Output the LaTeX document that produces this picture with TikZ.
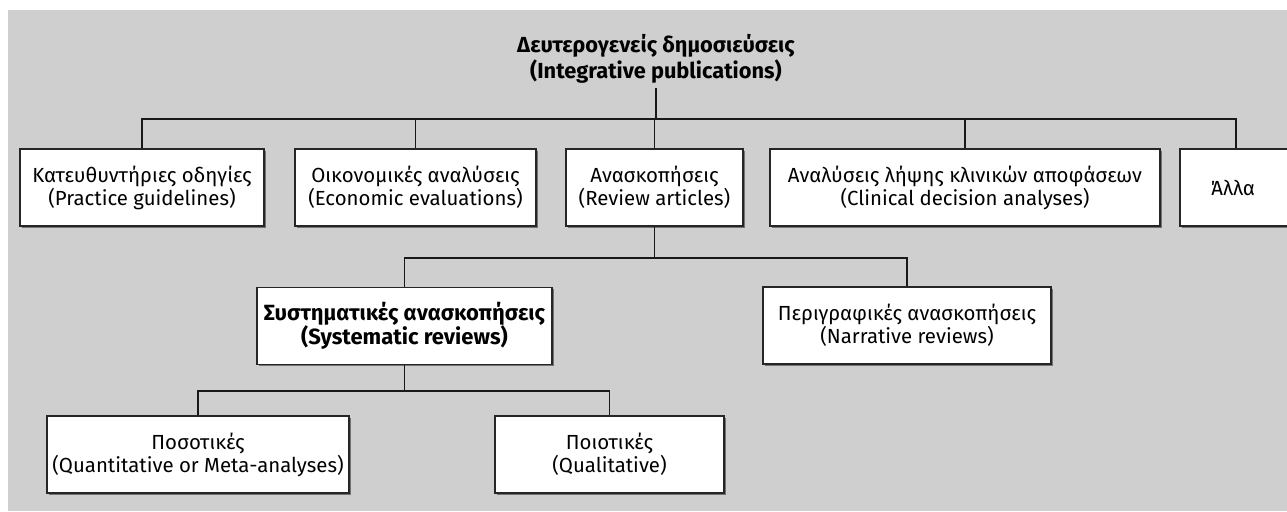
\documentclass[tikz,border=0pt]{standalone}
\usepackage{fontspec}
\setmainfont{Fira Sans}
\begin{document}
\begin{tikzpicture}[x=0.5pt,y=-0.5pt,
  box/.style={draw=black!85,line width=0.7pt,fill=white,inner sep=0pt,
    minimum height=38.5pt,align=center,font=\fontsize{10.2}{11.5}\selectfont},
  boldbox/.style={box,font=\fontsize{11}{12}\selectfont\bfseries},
  conn/.style={draw=black!90,line width=0.7pt}]
\useasboundingbox (0,0) rectangle (1287,511);
\fill[gray!38] (8,10) rectangle (1287,511);
\clip (0,0) rectangle (1287,511);
% title
\node[align=center,font=\fontsize{10.9}{11}\selectfont\bfseries,inner sep=0pt] (title) at (656,59)
  {Δευτερογενείς δημοσιεύσεις\\(Integrative publications)};
\coordinate (t0) at (656,88);
\coordinate (bus1) at (656,119);
% shadows
\foreach \a/\b/\c/\d in {20/149/264/226, 295/149/536/226, 566/149/743/226, 770/149/1160/226, 1180/149/1292/226,
  257/287/552/364, 763/287/1051/364, 47/416/349/493, 495/416/724/493}
  {\fill[black!55] (\a+2,\b+2) rectangle (\c+2,\d+2);}
% row 1
\node[box,minimum width=122pt] (b1) at (142,187.5) {Κατευθυντήριες οδηγίες\\(Practice guidelines)};
\node[box,minimum width=120.5pt] (b2) at (415.5,187.5) {Οικονομικές αναλύσεις\\(Economic evaluations)};
\node[box,minimum width=88.5pt] (b3) at (654.5,187.5) {Ανασκοπήσεις\\(Review articles)};
\node[box,minimum width=195pt] (b4) at (965,187.5) {Αναλύσεις λήψης κλινικών αποφάσεων\\(Clinical decision analyses)};
\node[box,minimum width=56pt] (b5) at (1236,187.5) {};
\node[font=\fontsize{10.2}{11.5}\selectfont,inner sep=0pt] (t5) at (1233,187.5) {Άλλα};
% row 2
\node[boldbox,minimum width=147.5pt] (b6) at (404.5,326) {Συστηματικές ανασκοπήσεις\\(Systematic reviews)};
\node[box,minimum width=144pt] (b7) at (907,325.5) {Περιγραφικές ανασκοπήσεις\\(Narrative reviews)};
% row 3
\node[box,minimum width=151pt] (b8) at (198,454.5) {Ποσοτικές\\(Quantitative or Meta-analyses)};
\node[box,minimum width=114.5pt] (b9) at (609.5,454.5) {Ποιοτικές\\(Qualitative)};
% connectors
\draw[conn] (t0) -- (bus1);
\draw[conn] (b1.north) -- (b1.north |- bus1) -| (b5.north);
\draw[conn] (b2.north) -- (b2.north |- bus1);
\draw[conn] (b3.north) -- (b3.north |- bus1);
\draw[conn] (b4.north) -- (b4.north |- bus1);
\coordinate (bus2) at (654.5,258);
\draw[conn] (b3.south) -- (bus2);
\draw[conn] (b6.north) -- (b6.north |- bus2) -| (b7.north);
\coordinate (bus3) at (404.5,391);
\draw[conn] (b6.south) -- (bus3);
\draw[conn] (b8.north) -- (b8.north |- bus3) -| (b9.north);
\end{tikzpicture}
\end{document}
